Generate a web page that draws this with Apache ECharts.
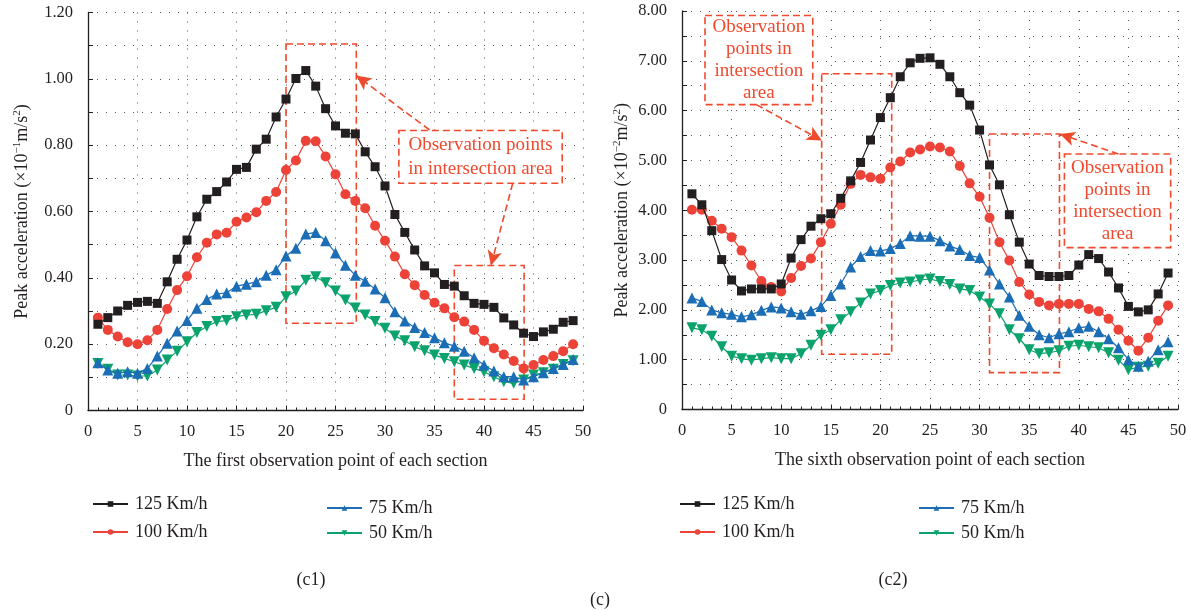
<!DOCTYPE html>
<html>
<head>
<meta charset="utf-8">
<script src="https://cdn.jsdelivr.net/npm/echarts@6/dist/echarts.min.js"></script>
<style>
  html, body { margin: 0; padding: 0; background: #fff; }
  #chart { width: 1191px; height: 610px; }
</style>
</head>
<body>
<div id="chart"></div>
<script>
// speeds (legend names)
var speeds = ["125 Km/h", "100 Km/h", "75 Km/h", "50 Km/h"];

// (c1) first observation point, x10^-1 m/s^2, points 1..49
var c1_125 = [0.26,0.28,0.30,0.317,0.326,0.329,0.323,0.388,0.456,0.514,0.584,0.637,0.66,0.689,0.727,0.733,0.788,0.818,0.885,0.939,1.001,1.025,0.978,0.91,0.858,0.836,0.834,0.78,0.735,0.677,0.591,0.537,0.484,0.436,0.415,0.38,0.375,0.346,0.323,0.32,0.311,0.279,0.258,0.233,0.223,0.237,0.245,0.266,0.271];
var c1_100 = [0.28,0.243,0.223,0.206,0.20,0.212,0.243,0.306,0.363,0.405,0.462,0.506,0.531,0.536,0.569,0.582,0.598,0.632,0.659,0.725,0.754,0.813,0.812,0.766,0.712,0.652,0.632,0.61,0.557,0.512,0.464,0.411,0.378,0.348,0.325,0.308,0.281,0.268,0.243,0.21,0.188,0.169,0.149,0.127,0.137,0.152,0.164,0.179,0.20];
var c1_75 = [0.144,0.122,0.112,0.117,0.112,0.127,0.164,0.203,0.24,0.271,0.308,0.335,0.351,0.355,0.375,0.381,0.388,0.408,0.424,0.466,0.489,0.532,0.537,0.512,0.475,0.438,0.408,0.39,0.366,0.34,0.298,0.27,0.25,0.235,0.219,0.204,0.194,0.179,0.159,0.137,0.119,0.102,0.102,0.092,0.102,0.114,0.127,0.139,0.154];
var c1_50 = [0.142,0.124,0.107,0.107,0.104,0.104,0.122,0.152,0.179,0.207,0.235,0.253,0.268,0.271,0.283,0.288,0.29,0.301,0.311,0.343,0.36,0.393,0.403,0.385,0.36,0.333,0.309,0.288,0.268,0.248,0.225,0.21,0.192,0.18,0.167,0.157,0.147,0.137,0.127,0.117,0.102,0.087,0.082,0.092,0.107,0.114,0.124,0.139,0.15];

// (c2) sixth observation point, x10^-2 m/s^2
var c2_125 = [4.33,4.11,3.59,3.01,2.60,2.38,2.42,2.42,2.42,2.52,3.04,3.41,3.68,3.83,3.93,4.24,4.59,4.96,5.41,5.86,6.26,6.68,6.96,7.05,7.06,6.93,6.68,6.36,6.11,5.61,4.91,4.51,3.91,3.36,2.92,2.69,2.67,2.67,2.69,2.90,3.11,3.03,2.76,2.44,2.07,1.96,2.00,2.32,2.74];
var c2_100 = [4.01,4.01,3.79,3.63,3.46,3.19,2.89,2.58,2.46,2.37,2.64,2.88,3.03,3.36,3.73,4.11,4.53,4.71,4.66,4.63,4.86,4.98,5.16,5.22,5.28,5.26,5.18,4.89,4.54,4.27,3.85,3.36,2.99,2.56,2.31,2.16,2.09,2.12,2.12,2.12,2.02,1.97,1.82,1.60,1.38,1.18,1.44,1.78,2.09];
var c2_75 = [2.24,2.17,2.00,1.94,1.91,1.86,1.90,1.99,2.06,2.04,1.96,1.91,1.98,2.07,2.29,2.52,2.86,3.07,3.19,3.18,3.23,3.33,3.49,3.48,3.48,3.39,3.28,3.21,3.09,3.05,2.80,2.52,2.26,1.89,1.67,1.50,1.44,1.52,1.56,1.64,1.67,1.56,1.42,1.24,1.00,0.87,0.97,1.20,1.36];
var c2_50 = [1.64,1.60,1.47,1.26,1.07,1.02,0.99,1.02,1.04,1.02,1.02,1.12,1.29,1.49,1.60,1.80,1.96,2.14,2.32,2.39,2.49,2.54,2.56,2.60,2.62,2.57,2.51,2.42,2.39,2.26,2.12,1.92,1.60,1.42,1.20,1.12,1.14,1.18,1.27,1.29,1.26,1.24,1.14,0.99,0.80,0.85,0.87,0.93,1.07];

var colors = ["#231f20", "#ec4237", "#1b6db5", "#0aa36b"];
var symbols = ["rect", "circle", "triangle", "path://M0,0 L10,0 L5,9 Z"];
var symbolSizes = [9, 10, 11, 11];
var annoRed = "#ef4a2e";
var font = "Liberation Serif";
var ink = "#231f20";

function pts(arr) {
  return arr.map(function (v, k) { return [k + 1, v]; });
}

function makeSeries(idx, arrs) {
  return arrs.map(function (arr, s) {
    return {
      name: speeds[s],
      type: "line",
      xAxisIndex: idx,
      yAxisIndex: idx,
      data: pts(arr),
      symbol: symbols[s],
      symbolSize: symbolSizes[s],
      color: colors[s],
      lineStyle: { width: 1.2, color: colors[s] },
      itemStyle: { color: colors[s] },
      z: 5 - s
    };
  });
}

function xAxisCfg(idx, name) {
  return {
    type: "value", gridIndex: idx, min: 0, max: 50, interval: 5,
    name: name, nameLocation: "middle", nameGap: 42,
    nameTextStyle: { fontFamily: font, fontSize: 18, color: ink },
    axisLine: { show: true, lineStyle: { color: ink, width: 1.3 } },
    axisTick: { show: true, inside: true, length: 5, lineStyle: { color: ink } },
    minorTick: { show: true, splitNumber: 5, length: 3, lineStyle: { color: ink } },
    axisLabel: { fontFamily: font, fontSize: 16.5, color: ink, margin: 13 },
    splitLine: { show: true, lineStyle: { color: "#555", type: [1, 8], width: 1 } }
  };
}

function yAxisCfg(idx, max, interval, name, gap) {
  return {
    type: "value", gridIndex: idx, min: 0, max: max, interval: interval,
    name: name, nameLocation: "middle", nameGap: gap, nameRotate: 90,
    nameTextStyle: {
      fontFamily: font, fontSize: 18, color: ink,
      rich: { s: { fontFamily: font, fontSize: 11, color: ink, padding: [0, 0, 9, 0] } }
    },
    axisLine: { show: true, lineStyle: { color: ink, width: 1.3 } },
    axisTick: { show: true, inside: true, length: 5, lineStyle: { color: ink } },
    minorTick: { show: true, splitNumber: 2, length: 5, lineStyle: { color: ink } },
    axisLabel: {
      fontFamily: font, fontSize: 16.5, color: ink, margin: 15,
      formatter: function (v) { return v === 0 ? "0" : v.toFixed(2); }
    },
    splitLine: { show: true, lineStyle: { color: "#555", type: [1, 8], width: 1 } },
    minorSplitLine: { show: true, lineStyle: { color: "#555", type: [1, 8], width: 1 } }
  };
}

var boxStyle = { color: "rgba(0,0,0,0)", borderColor: annoRed, borderWidth: 1.6, borderType: [7, 4] };
var textBoxStyle = { color: "#fff", borderColor: annoRed, borderWidth: 1.6, borderType: [7, 4] };

function textArea(a, b, txt, lh) {
  return [
    { coord: a, itemStyle: textBoxStyle,
      label: { show: true, position: "inside", formatter: txt, color: annoRed,
               fontFamily: font, fontSize: 19, lineHeight: lh, align: "center" } },
    { coord: b }
  ];
}

function arrow(a, b) {
  return [{ coord: a }, { coord: b }];
}

var arrowLine = {
  symbol: ["none", "arrow"], symbolSize: [11, 15], silent: true,
  label: { show: false },
  lineStyle: { color: annoRed, width: 1.6, type: [7, 4] },
  emphasis: { disabled: true }
};

var s1 = makeSeries(0, [c1_125, c1_100, c1_75, c1_50]);
var s2 = makeSeries(1, [c2_125, c2_100, c2_75, c2_50]);

s1[0].markArea = {
  silent: true, z: 1,
  data: [
    [{ coord: [20, 1.105], itemStyle: boxStyle }, { coord: [27.1, 0.263] }],
    [{ coord: [37, 0.437], itemStyle: boxStyle }, { coord: [44.05, 0.034] }],
    textArea([31.4, 0.844], [47.9, 0.685], "Observation points\nin intersection area", 24)
  ]
};
s1[0].markLine = Object.assign({}, arrowLine, {
  data: [arrow([34.5, 0.846], [27.1, 1.01]), arrow([42.9, 0.685], [40.7, 0.437])]
});

s2[0].markArea = {
  silent: true, z: 1,
  data: [
    [{ coord: [14.08, 6.74], itemStyle: boxStyle }, { coord: [21.14, 1.11] }],
    [{ coord: [31, 5.53], itemStyle: boxStyle }, { coord: [38.05, 0.74] }],
    textArea([2.32, 7.91], [13.18, 6.12], "Observation\npoints in\nintersection\narea", 22),
    textArea([38.55, 5.13], [49.26, 3.25], "Observation\npoints in\nintersection\narea", 22)
  ]
};
s2[0].markLine = Object.assign({}, arrowLine, {
  data: [arrow([7.5, 6.12], [14.1, 5.4]), arrow([44, 5.13], [38.1, 5.53])]
});

function legendCfg(name, left, mid) {
  return {
    data: [name], left: left, top: mid - 10, padding: 0,
    itemWidth: 35, itemHeight: 7, itemGap: 0, selectedMode: false,
    textStyle: { fontFamily: font, fontSize: 18, color: ink, padding: [0, 0, 0, 2], lineHeight: 20 }
  };
}

var capStyle = { fontFamily: font, fontSize: 18, fontWeight: "normal", color: ink };

var chart = echarts.init(document.getElementById("chart"));
chart.setOption({
  animation: false,
  backgroundColor: "#fff",
  title: [
    { text: "(c1)", left: 306, top: 566, textAlign: "center", textStyle: capStyle },
    { text: "(c2)", left: 888, top: 566, textAlign: "center", textStyle: capStyle },
    { text: "(c)", left: 595, top: 586, textAlign: "center", textStyle: capStyle }
  ],
  legend: [
    legendCfg(speeds[0], 92, 504), legendCfg(speeds[1], 92, 532),
    legendCfg(speeds[2], 326, 508), legendCfg(speeds[3], 326, 533),
    legendCfg(speeds[0], 679, 504), legendCfg(speeds[1], 679, 532),
    legendCfg(speeds[2], 918, 508), legendCfg(speeds[3], 918, 533)
  ],
  grid: [
    { left: 88, top: 12.5, width: 495, height: 398 },
    { left: 682, top: 11, width: 496, height: 398.5 }
  ],
  xAxis: [
    xAxisCfg(0, "The first observation point of each section"),
    xAxisCfg(1, "The sixth observation point of each section")
  ],
  yAxis: [
    yAxisCfg(0, 1.2, 0.2, "Peak acceleration (×10{s|−1}m/s{s|2})", 56),
    yAxisCfg(1, 8, 1, "Peak acceleration (×10{s|−2}m/s{s|2})", 50)
  ],
  series: s1.concat(s2)
});
</script>
</body>
</html>
